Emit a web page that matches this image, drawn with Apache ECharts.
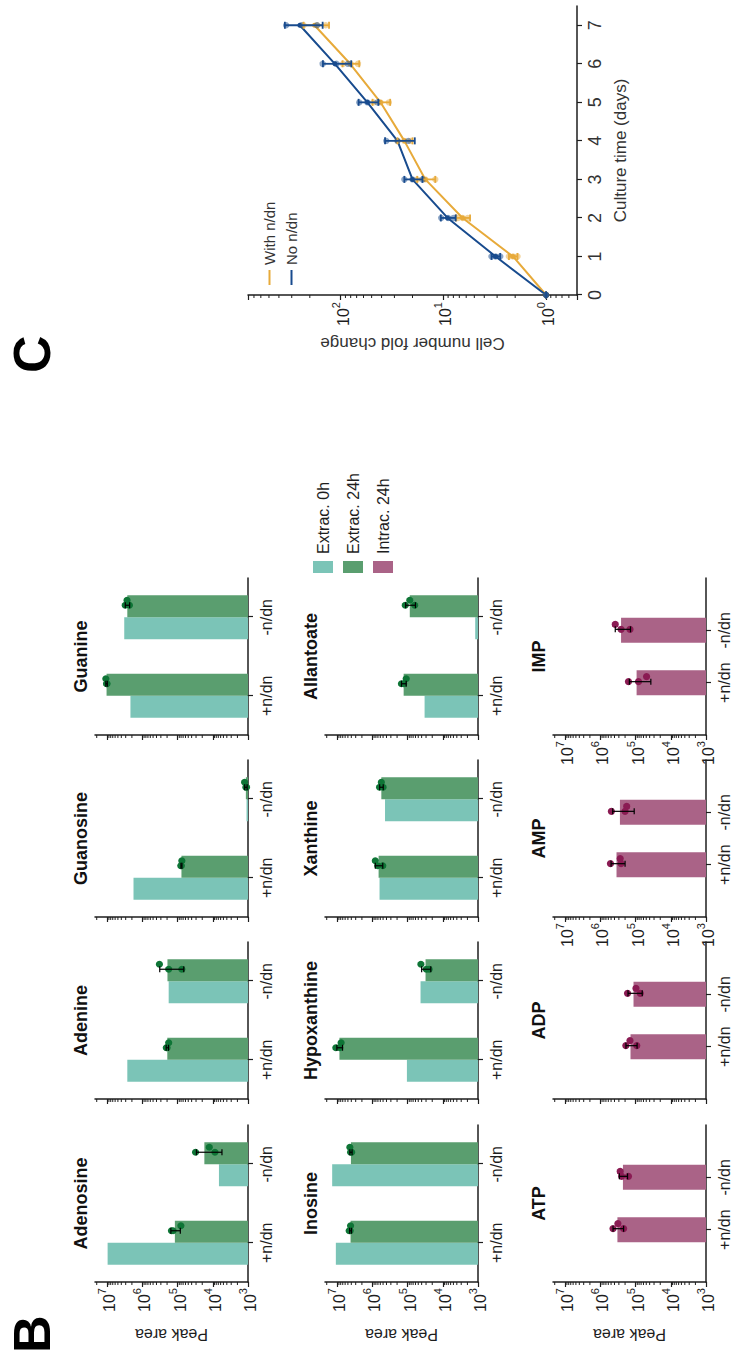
<!DOCTYPE html>
<html><head><meta charset="utf-8">
<script src="https://cdn.jsdelivr.net/npm/echarts@6/dist/echarts.min.js"></script>
<style>
html,body{margin:0;padding:0;width:733px;height:1355px;overflow:hidden;background:#fff;}
#chart{position:absolute;left:0;top:0;width:1355px;height:733px;transform-origin:0 0;transform:translateY(1355px) rotate(-90deg);}
</style></head><body><div id="chart"></div>
<script>
// ---------------- DATA ----------------
const conditions = ['+n/dn', '-n/dn'];
const extracMetabolites = ['Adenosine', 'Adenine', 'Guanosine', 'Guanine', 'Inosine', 'Hypoxanthine', 'Xanthine', 'Allantoate'];
const intracMetabolites = ['ATP', 'ADP', 'AMP', 'IMP'];
const barSeriesNames = ['Extrac. 0h', 'Extrac. 24h', 'Intrac. 24h'];
const peakTickExponents = [3, 4, 5, 6, 7];

// peak areas, [+n/dn, -n/dn]
const extrac0h = [
  [9.8e6, 6.7e3], [2.7e6, 1.8e5], [1.8e6, 1.1e3], [2.2e6, 3.3e6],
  [1.1e7, 1.4e7], [1.05e5, 4.3e4], [6.3e5, 4.4e5], [3.3e4, 1.2e3]
];
const extrac24h = [
  [1.2e5, 1.74e4], [1.97e5, 1.95e5], [7.8e4, 1.15e3], [1.05e7, 2.7e6],
  [4.2e6, 4.1e6], [8.7e6, 3.1e4], [6.7e5, 5.6e5], [1.3e5, 8.7e4]
];
const extrac24hSD = [
  [3.6e4, 1.19e4], [1.5e4, 1.28e5], [2.5e3, 90], [5e5, 3.8e5],
  [2.5e5, 3e5], [1.6e6, 9e3], [1.6e5, 6.5e4], [2e4, 2.7e4]
];
const extrac24hReplicates = [
  [[1.5e5, 8.1e4, 1.35e5], [3.1e4, 1.26e4, 8.7e3]],
  [[2.1e5, 1.8e5, 2.0e5], [1.8e5, 3.3e5, 7.6e4]],
  [[8.1e4, 7.6e4, 7.9e4], [1.1e3, 1.25e3, 1.15e3]],
  [[1.05e7, 1.1e7, 1.02e7], [3.1e6, 2.75e6, 2.35e6]],
  [[4.6e6, 4.2e6, 4.3e6], [4.2e6, 4.4e6, 3.9e6]],
  [[1.1e7, 7.8e6, 8.5e6], [2.95e4, 4.2e4, 2.45e4]],
  [[7.1e5, 8.3e5, 5.1e5], [6.3e5, 5.6e5, 5.0e5]],
  [[1.5e5, 1.1e5, 1.3e5], [1.17e5, 8.7e4, 6.3e4]]
];
const intrac24h = [[3.3e5, 2.3e5], [1.4e5, 1.15e5], [3.5e5, 2.8e5], [9.4e4, 2.6e5]];
const intrac24hSD = [[1.1e5, 6e4], [4.9e4, 5e4], [1.5e5, 1.7e5], [5.7e4, 1.2e5]];
const intrac24hReplicates = [
  [[4.4e5, 3.2e5, 2.2e5], [2.5e5, 2.75e5, 1.6e5]],
  [[1.9e5, 1.45e5, 9.3e4], [1.7e5, 9.8e4, 7.4e4]],
  [[5.2e5, 2.75e5, 2.6e5], [4.9e5, 1.8e5, 2.0e5]],
  [[8.3e4, 4.9e4, 1.6e5], [2.6e5, 3.8e5, 1.45e5]]
];

// Panel C: cell number fold change
const cultureDays = [0, 1, 2, 3, 4, 5, 6, 7];
const dayTicks = [0, 1, 2, 3, 4, 5, 6, 7];
const withNdnMean = [1, 2.1, 6.5, 15, 24, 41, 81, 180];
const noNdnMean = [1, 3.1, 9.1, 20, 28, 55, 114, 250];
const withNdnSD = [0, 0.2, 1.0, 3, 4, 8, 15, 50];
const noNdnSD = [0, 0.3, 1.5, 4, 9, 12, 35, 100];
const withNdnReplicates = [[1, 1, 1], [1.9, 2.1, 2.3], [5.8, 6.5, 7.2], [12, 15, 18], [21, 24, 28], [34, 41, 48], [68, 80, 95], [140, 170, 230]];
const noNdnReplicates = [[1, 1, 1], [2.8, 3.1, 3.4], [8, 9, 10.5], [16, 20, 24], [22, 28, 36], [44, 55, 66], [85, 110, 150], [170, 240, 340]];

// ---------------- LAYOUT / STYLE ----------------
const FONT = '"Liberation Sans", Arial, Helvetica, sans-serif';
const INK = '#1e1e1e';
const COL_LEFT = [73, 256, 438, 620];
const ROW_TOP = [95, 325, 553];
const GRID_W = 157, GRID_H = 153;
const LOG_MIN = 3, LOG_MAX = 7.35;
const COLORS = { ext0: '#7bc4b7', ext24: '#5a9e6f', intra: '#aa6387', dot24: '#0e7536', dotIntra: '#8a1b53', withN: '#e7aa3a', noN: '#184b8e' };
const JITTER = [1, 6, 1];
const lg = Math.log10;

const rich = {
  b: { fontSize: 16, lineHeight: 21, verticalAlign: 'bottom', fontFamily: FONT, color: INK },
  s: { fontSize: 11, lineHeight: 11, verticalAlign: 'top', fontFamily: FONT, color: INK }
};
function powLabelFromExp(n) {
  const r = Math.round(n);
  if (Math.abs(n - r) > 1e-6) return '';
  return '{b|10}{s|' + r + '}';
}

const grids = [], xAxes = [], yAxes = [], series = [], graphics = [];

function minorTickSeries(idx, values) {
  return {
    type: 'custom', xAxisIndex: idx, yAxisIndex: idx, silent: true, z: 3,
    data: values.map(v => [0, v]),
    renderItem: (params, api) => {
      const cs = params.coordSys;
      const p = api.coord([api.value(0), api.value(1)]);
      return { type: 'line', shape: { x1: cs.x - 3, y1: p[1], x2: cs.x, y2: p[1] }, style: { stroke: INK, lineWidth: 1 } };
    }
  };
}
function pointSeries(idx, reps, catShift, offset, color, transform, r, opacity) {
  const data = [];
  reps.forEach((arr, ci) => arr.forEach((v, k) => data.push([ci + catShift, transform(v), k])));
  return {
    type: 'custom', xAxisIndex: idx, yAxisIndex: idx, silent: true, z: 5, data,
    renderItem: (params, api) => {
      const p = api.coord([api.value(0), api.value(1)]);
      const k = api.value(2);
      return { type: 'circle', shape: { cx: p[0] + offset + JITTER[k], cy: p[1], r: r }, style: { fill: color, opacity: opacity } };
    }
  };
}
function errorSeries(idx, hi, lo, xs, offset, color, cap, z, w) {
  const data = hi.map((h, i) => [xs[i], h, lo[i]]);
  return {
    type: 'custom', xAxisIndex: idx, yAxisIndex: idx, silent: true, z: z, data,
    renderItem: (params, api) => {
      const a = api.coord([api.value(0), api.value(1)]);
      const b = api.coord([api.value(0), api.value(2)]);
      const x = a[0] + offset;
      return {
        type: 'group', children: [
          { type: 'line', shape: { x1: x, y1: a[1], x2: x, y2: b[1] }, style: { stroke: color, lineWidth: w } },
          { type: 'line', shape: { x1: x - cap, y1: a[1], x2: x + cap, y2: a[1] }, style: { stroke: color, lineWidth: w } },
          { type: 'line', shape: { x1: x - cap, y1: b[1], x2: x + cap, y2: b[1] }, style: { stroke: color, lineWidth: w } }
        ]
      };
    }
  };
}

const barMinorTicks = [];
for (let n = 3; n <= 7; n++) for (let k = 2; k <= 9; k++) { const v = n + lg(k); if (v < LOG_MAX) barMinorTicks.push(v); }

for (let g = 0; g < 12; g++) {
  const r = Math.floor(g / 4), c = g % 4;
  const isIntra = r === 2;
  const showY = c === 0 || (isIntra && c >= 2);
  const name = isIntra ? intracMetabolites[c] : extracMetabolites[g];
  grids.push({ left: COL_LEFT[c], top: ROW_TOP[r], width: GRID_W, height: GRID_H });
  xAxes.push({
    type: 'category', gridIndex: g,
    data: isIntra ? [''].concat(conditions, ['']) : conditions,
    boundaryGap: !isIntra,
    axisLine: { lineStyle: { color: INK, width: 1.5 } },
    axisTick: { show: true, length: 5, alignWithLabel: true, interval: isIntra ? ((i, v) => v !== '') : 0, lineStyle: { color: INK, width: 1.2 } },
    axisLabel: { interval: 0, fontSize: 16, color: INK, fontFamily: FONT, margin: 10 }
  });
  yAxes.push({
    type: 'value', gridIndex: g, min: LOG_MIN, max: LOG_MAX, interval: 1, startValue: LOG_MIN,
    axisLine: { show: true, lineStyle: { color: INK, width: 1.5 } },
    axisTick: { show: true, length: 5, customValues: peakTickExponents, lineStyle: { color: INK, width: 1.2 } },
    axisLabel: { show: showY, margin: 6, customValues: peakTickExponents, formatter: v => powLabelFromExp(v), rich: rich },
    splitLine: { show: false },
    name: c === 0 ? 'Peak area' : '', nameLocation: 'middle', nameGap: 44,
    nameTextStyle: { fontSize: 16, fontFamily: FONT, color: INK }
  });
  graphics.push({
    type: 'text', x: COL_LEFT[c] + GRID_W / 2, y: ROW_TOP[r] - 14,
    style: { text: name, font: 'bold 18px ' + FONT, fill: '#111', textAlign: 'center', textVerticalAlign: 'middle', align: 'center', verticalAlign: 'middle' }
  });
  series.push(minorTickSeries(g, barMinorTicks));
  if (!isIntra) {
    series.push({ type: 'bar', name: barSeriesNames[0], xAxisIndex: g, yAxisIndex: g, data: extrac0h[g].map(lg), barWidth: 22, barGap: '0%', clip: true, silent: true, itemStyle: { color: COLORS.ext0 } });
    series.push({ type: 'bar', name: barSeriesNames[1], xAxisIndex: g, yAxisIndex: g, data: extrac24h[g].map(lg), barWidth: 22, barGap: '0%', clip: true, silent: true, itemStyle: { color: COLORS.ext24 } });
    series.push(pointSeries(g, extrac24hReplicates[g], 0, 11, COLORS.dot24, lg, 3.6, 1));
    const hi = extrac24h[g].map((m, i) => lg(m + extrac24hSD[g][i]));
    const lo = extrac24h[g].map((m, i) => lg(Math.max(m - extrac24hSD[g][i], 1000)));
    series.push(errorSeries(g, hi, lo, [0, 1], 12, '#000', 3, 6, 1.2));
  } else {
    series.push({ type: 'bar', name: barSeriesNames[2], xAxisIndex: g, yAxisIndex: g, data: ['-'].concat(intrac24h[c].map(lg), ['-']), barWidth: 25, clip: true, silent: true, itemStyle: { color: COLORS.intra } });
    series.push(pointSeries(g, intrac24hReplicates[c], 1, 0, COLORS.dotIntra, lg, 3.6, 1));
    const hi = intrac24h[c].map((m, i) => lg(m + intrac24hSD[c][i]));
    const lo = intrac24h[c].map((m, i) => lg(Math.max(m - intrac24hSD[c][i], 1000)));
    series.push(errorSeries(g, hi, lo, [1, 2], 1, '#000', 3, 6, 1.2));
  }
}

// ---------------- PANEL C ----------------
const C = 12;
grids.push({ left: 1060, top: 248, width: 289, height: 329 });
xAxes.push({
  type: 'value', gridIndex: C, min: 0, max: 7.5, interval: 1,
  axisLine: { lineStyle: { color: INK, width: 1.5 } },
  axisTick: { length: 5, customValues: dayTicks, lineStyle: { color: INK, width: 1.2 } },
  axisLabel: { customValues: dayTicks, fontSize: 18, color: '#333', fontFamily: FONT, margin: 9, formatter: v => (Number.isInteger(v) ? String(v) : '') },
  splitLine: { show: false },
  name: 'Culture time (days)', nameLocation: 'middle', nameGap: 35,
  nameTextStyle: { fontSize: 17, fontFamily: FONT, color: '#333' }
});
yAxes.push({
  type: 'log', logBase: 10, gridIndex: C, min: 0.5, max: 800,
  axisLine: { show: true, lineStyle: { color: INK, width: 1.5 } },
  axisTick: { show: true, length: 5, lineStyle: { color: INK, width: 1.2 } },
  axisLabel: { margin: 7, formatter: v => powLabelFromExp(lg(v)), rich: rich },
  splitLine: { show: false },
  name: 'Cell number fold change', nameLocation: 'middle', nameGap: 40,
  nameTextStyle: { fontSize: 17, fontFamily: FONT, color: '#333' }
});
const foldMinor = [];
for (let n = -1; n <= 2; n++) for (let k = 2; k <= 9; k++) { const v = k * Math.pow(10, n); if (v > 0.55 && v < 790) foldMinor.push(v); }
series.push(minorTickSeries(C, foldMinor));

function addGrowth(name, means, sds, reps, color) {
  series.push({
    type: 'line', name: name, xAxisIndex: C, yAxisIndex: C,
    data: cultureDays.map((d, i) => [d, means[i]]),
    symbol: 'circle', symbolSize: 5, showSymbol: true, silent: true,
    lineStyle: { color: color, width: 2 }, itemStyle: { color: color }, z: 4
  });
  const pdata = [];
  reps.forEach((arr, i) => arr.forEach(v => pdata.push([cultureDays[i], v])));
  series.push({
    type: 'custom', xAxisIndex: C, yAxisIndex: C, silent: true, z: 5, data: pdata,
    renderItem: (params, api) => {
      const p = api.coord([api.value(0), api.value(1)]);
      return { type: 'circle', shape: { cx: p[0], cy: p[1], r: 3.2 }, style: { fill: color, opacity: 0.5 } };
    }
  });
  const hi = means.map((m, i) => m + sds[i]);
  const lo = means.map((m, i) => Math.max(m - sds[i], 0.5));
  series.push(errorSeries(C, hi, lo, cultureDays, 0, color, 3.5, 6, 1.8));
}
addGrowth('With n/dn', withNdnMean, withNdnSD, withNdnReplicates, COLORS.withN);
addGrowth('No n/dn', noNdnMean, noNdnSD, noNdnReplicates, COLORS.noN);

// panel letters
graphics.push({ type: 'text', x: 2, y: 6, style: { text: 'B', font: 'bold 52px ' + FONT, fill: '#000', textAlign: 'left', textVerticalAlign: 'top', align: 'left', verticalAlign: 'top' } });
graphics.push({ type: 'text', x: 982, y: 6, style: { text: 'C', font: 'bold 52px ' + FONT, fill: '#000', textAlign: 'left', textVerticalAlign: 'top', align: 'left', verticalAlign: 'top' } });

const option = {
  animation: false,
  backgroundColor: '#fff',
  textStyle: { fontFamily: FONT },
  grid: grids, xAxis: xAxes, yAxis: yAxes, series: series,
  graphic: graphics,
  legend: [
    {
      data: barSeriesNames, orient: 'vertical', left: 782, top: 313, padding: 0,
      itemWidth: 12, itemHeight: 20, itemGap: 10, icon: 'rect', selectedMode: false,
      textStyle: { fontSize: 16, color: INK, fontFamily: FONT, padding: [0, 0, 0, 2] }
    },
    {
      data: ['With n/dn', 'No n/dn'], orient: 'vertical', left: 1070, top: 262, padding: 0,
      itemWidth: 15, itemHeight: 2, itemGap: 7, icon: 'rect', selectedMode: false,
      textStyle: { fontSize: 15, color: '#333', fontFamily: FONT }
    }
  ]
};
const chart = echarts.init(document.getElementById('chart'), null, { renderer: 'svg', width: 1355, height: 733 });
chart.setOption(option);
</script></body></html>
